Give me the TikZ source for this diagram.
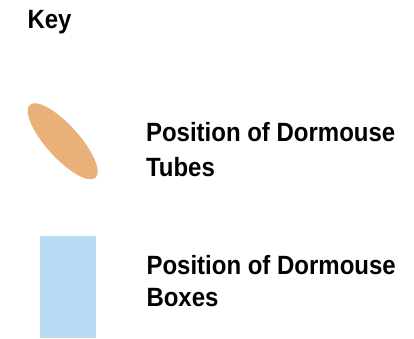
\documentclass[tikz,border=0pt]{standalone}
\usepackage{fontspec}
\setmainfont{Liberation Sans}
\definecolor{tubeorange}{RGB}{234,176,122}
\definecolor{boxblue}{RGB}{185,220,245}
\begin{document}
\begin{tikzpicture}[x=1pt,y=1pt,
  keytext/.style={anchor=base west, inner sep=0pt, outer sep=0pt, align=left,
    font=\fontsize{24}{31.2}\selectfont\bfseries, yscale=1.1, transform shape}]
\useasboundingbox (0,0) rectangle (414,338);
\node[keytext] (key) at (27.5,309) {Key};
\fill[tubeorange, rotate around={-48:(62.7,196.7)}] (62.7,196.7) ellipse [x radius=49, y radius=16.4];
\coordinate (tube) at (62.7,196.7);
\node[keytext] (tubes) at (146,162) {Position of Dormouse\\Tubes};
\fill[boxblue] (40,0) rectangle (96,102);
\node[keytext, font=\fontsize{24}{29.5}\selectfont\bfseries] (boxes) at (146.5,31.3) {Position of Dormouse\\Boxes};
\end{tikzpicture}
\end{document}
